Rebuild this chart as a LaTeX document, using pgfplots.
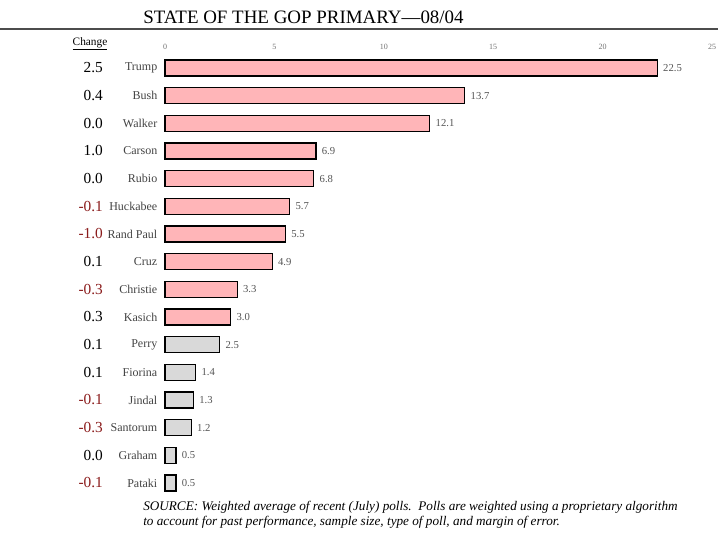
\documentclass[border=0pt]{standalone}
\usepackage{fontspec}
\setmainfont{Liberation Serif}
\usepackage{pgfplots}
\pgfplotsset{compat=1.18}
\definecolor{barpink}{HTML}{FFB5B8}
\definecolor{bargray}{HTML}{D9D9D9}
\definecolor{negred}{HTML}{8B1C1C}
\definecolor{namegray}{HTML}{444444}
\definecolor{valgray}{HTML}{555555}
\begin{document}
\begin{tikzpicture}
\useasboundingbox (0,0) rectangle (546pt,399pt);
\fill[white] (0,0) rectangle (546pt,399pt);
\node[anchor=base west, inner sep=0pt, font=\fontsize{14.2}{16}\selectfont] at (107.25pt,381pt) {STATE OF THE GOP PRIMARY---08/04};
\draw[line width=1pt, black!70] (0,377.25pt) -- (538.5pt,377.25pt);
\node[font=\fontsize{8.5}{10}\selectfont] at (67.5pt,366pt) {\underline{Change}};
\begin{axis}[
  at={(123.75pt,26.4pt)}, anchor=south west,
  width=410.25pt, height=332pt, scale only axis,
  xmin=0, xmax=25, ymin=-0.5, ymax=15.5, y dir=reverse,
  clip=false,
  axis line style={draw=none},
  major tick length=0pt,
  xtick={0,5,...,25}, xticklabel pos=upper,
  xticklabel style={font=\fontsize{6}{7}\selectfont, text=black!55},
  ytick={0,...,15},
  yticklabels={Trump,Bush,Walker,Carson,Rubio,Huckabee,Rand Paul,Cruz,Christie,Kasich,Perry,Fiorina,Jindal,Santorum,Graham,Pataki},
  yticklabel style={font=\fontsize{9}{10}\selectfont, text=namegray, xshift=-2.25pt},
  /pgf/number format/assume math mode=true,
  xbar, bar width=12pt, bar shift=0pt,
  nodes near coords={\pgfmathprintnumber[fixed,fixed zerofill,precision=1,assume math mode=true]{\pgfplotspointmeta}},
  point meta=x,
  nodes near coords style={font=\fontsize{8}{9}\selectfont, text=valgray, anchor=west, inner sep=1pt, xshift=3pt},
]
\addplot[draw=black, line width=0.9pt, fill=barpink] coordinates {
(22.5,0) (13.7,1) (12.1,2) (6.9,3) (6.8,4) (5.7,5) (5.5,6) (4.9,7) (3.3,8) (3.0,9)};
\addplot[draw=black, line width=0.9pt, fill=bargray] coordinates {
(2.5,10) (1.4,11) (1.3,12) (1.2,13) (0.5,14) (0.5,15)};
\begin{scope}[every node/.style={anchor=east, inner sep=0pt, font=\fontsize{11.5}{12}\selectfont}]
\node at (axis cs:-2.83,0) {2.5};
\node at (axis cs:-2.83,1) {0.4};
\node at (axis cs:-2.83,2) {0.0};
\node at (axis cs:-2.83,3) {1.0};
\node at (axis cs:-2.83,4) {0.0};
\node[text=negred] at (axis cs:-2.83,5) {-0.1};
\node[text=negred] at (axis cs:-2.83,6) {-1.0};
\node at (axis cs:-2.83,7) {0.1};
\node[text=negred] at (axis cs:-2.83,8) {-0.3};
\node at (axis cs:-2.83,9) {0.3};
\node at (axis cs:-2.83,10) {0.1};
\node at (axis cs:-2.83,11) {0.1};
\node[text=negred] at (axis cs:-2.83,12) {-0.1};
\node[text=negred] at (axis cs:-2.83,13) {-0.3};
\node at (axis cs:-2.83,14) {0.0};
\node[text=negred] at (axis cs:-2.83,15) {-0.1};
\end{scope}
\end{axis}
\node[anchor=north west, inner sep=0pt, align=left, font=\itshape\fontsize{9.9}{11.25}\selectfont] at (107.25pt,23.3pt)
{SOURCE: Weighted average of recent (July) polls.\ \ Polls are weighted using a proprietary algorithm\\to account for past performance, sample size, type of poll, and margin of error.};
\end{tikzpicture}
\end{document}
